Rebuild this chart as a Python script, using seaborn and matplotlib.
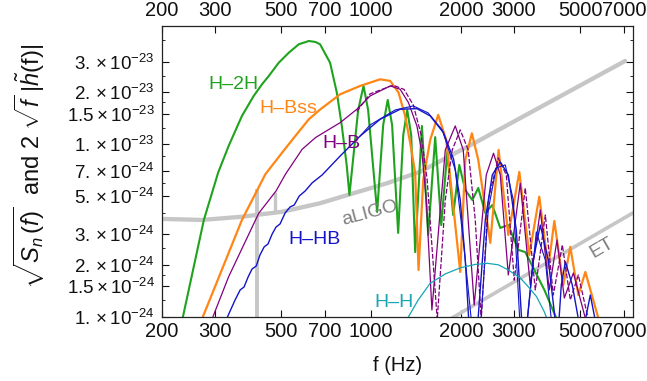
import numpy as np
import pandas as pd
import matplotlib
matplotlib.use("Agg")
import matplotlib.pyplot as plt
import seaborn as sns
from matplotlib.ticker import FixedLocator, FixedFormatter, NullFormatter

# ---------------- data (frequency in Hz, amplitude in units of 1e-24) ----------------
UNIT = 1e-24

h2h_f = [228, 235, 276, 308, 334, 370, 405, 432, 455, 491, 531, 573, 619, 651, 675, 729, 768, 798, 829, 846,
         905, 943, 977, 1047, 1097, 1136, 1175, 1231, 1280, 1320, 1361, 1403, 1478, 1551, 1637, 1715, 1796, 1880,
         1970, 2063, 2178, 2280, 2407, 2540, 2701, 2873, 3102, 3274, 3481, 3792, 4158]
h2h_a = [0.85, 1.0, 3.64, 6.84, 9.78, 14.6, 19.06, 22.3, 24.9, 29.7, 34.0, 38.0, 39.7, 39.2, 38.0, 29.7, 19.9, 12.77,
         7.48, 5.08, 15.8, 21.8, 15.8, 4.05, 12.94, 18.07, 12.94, 3.06, 11.3, 15.8, 11.3, 2.37, 12.77, 2.98, 11.0,
         3.40, 9.02, 3.89, 7.59, 5.43, 4.75, 5.58, 4.00, 4.44, 3.27, 3.40, 2.44, 2.37, 1.92, 1.43, 0.98]

bss_f = [265, 274, 370, 443, 504, 558, 619, 677, 788, 919, 1072, 1158, 1235, 1299, 1350, 1403, 1440, 1493, 1575,
         1675, 1782, 1985, 2063, 2171, 2280, 2501, 2666, 2873, 3127, 3376, 3646, 3908, 4094, 4387, 4630, 4925,
         5198, 5744]
bss_a = [0.85, 1.0, 3.64, 6.70, 8.94, 11.17, 13.96, 15.96, 19.5, 21.8, 23.8, 23.3, 19.9, 14.6, 10.2, 6.84, 1.866,
         6.21, 10.59, 14.8, 10.59, 1.817, 8.11, 11.58, 8.11, 2.68, 9.27, 2.98, 6.91, 2.28, 4.97, 1.92, 3.59, 1.53,
         2.54, 1.336, 1.817, 0.98]

hb_f = [288, 296, 334, 421, 481, 517, 588, 651, 788, 896, 992, 1158, 1250, 1333, 1422, 1478, 1528, 1596, 1769,
        1910, 2031, 2210, 2425, 2564, 2701, 2873, 3150, 3402, 3675, 3938, 4178, 4422, 4740, 5198]
hb_a = [0.85, 1.0, 1.706, 3.98, 5.36, 6.70, 9.35, 10.92, 13.35, 15.96, 19.06, 21.8, 20.84, 17.42, 12.77, 8.94,
        4.75, 1.094, 9.27, 12.77, 9.27, 1.169, 6.64, 8.87, 6.64, 1.746, 5.94, 1.53, 4.16, 1.43, 2.786, 1.284,
        1.793, 0.98]

hb2_f = [896, 992, 1185, 1288, 1383, 1470, 1539, 1663, 1769, 1866, 1985, 2110, 2228, 2332, 2462, 2660, 2829,
         3008, 3274, 3536, 3820, 4062, 4354, 4630, 4925, 5320]
hb2_a = [15.5, 19.6, 22.0, 20.8, 16.9, 11.3, 6.21, 0.96, 4.75, 9.27, 12.11, 9.27, 3.64, 0.96, 4.75, 8.33, 6.64,
         1.63, 5.58, 1.43, 3.89, 1.336, 2.61, 1.25, 1.746, 0.96]

hhb_f = [325, 351, 365, 376, 388, 400, 413, 425, 439, 452, 467, 481, 496, 516, 536, 553, 575, 602, 635, 686,
         788, 919, 1072, 1250, 1422, 1575, 1744, 1886, 1985, 2063, 2128, 2263, 2407, 2540, 2701, 2873, 3056,
         3198, 3300, 3481, 3675, 3908, 4158, 4222, 4320, 4457, 4700, 5000, 5117, 5400, 5690]
hhb_a = [0.93, 1.25, 1.43, 1.487, 1.70, 1.891, 1.968, 2.28, 2.54, 2.64, 3.02, 3.31, 3.45, 4.00, 4.33, 4.44, 5.01,
         5.36, 5.97, 6.64, 8.55, 11.17, 13.96, 15.96, 16.09, 14.6, 11.67, 8.18, 4.75, 2.13, 0.84, 0.84, 3.64,
         6.64, 7.9, 6.64, 3.18, 0.84, 0.84, 2.13, 3.40, 2.13, 0.84, 0.84, 1.53, 2.08, 1.53, 0.84, 0.84, 1.336, 0.84]

hhb2_f = [919, 992, 1203, 1383, 1551, 1728, 1910, 2031, 2178, 2316, 2462, 2618, 2806, 2986, 3150, 3300, 3564,
          3820, 4031]
hhb2_a = [11.17, 12.94, 15.81, 16.68, 15.19, 12.11, 7.10, 2.786, 0.84, 0.84, 4.16, 7.29, 7.59, 4.75, 0.84, 0.84,
          3.10, 2.13, 0.84]

hh_f = [1290, 1333, 1436, 1575, 1769, 1985, 2228, 2444, 2660, 2873, 3150, 3350, 3572, 3792, 3880]
hh_a = [0.9, 1.0, 1.25, 1.563, 1.77, 1.92, 2.01, 2.04, 2.00, 1.866, 1.677, 1.493, 1.306, 1.065, 0.96]

ligo_f = [200, 272, 370, 504, 675, 873, 1129, 1459, 2280, 7056]
ligo_a = [3.69, 3.64, 3.80, 4.06, 4.55, 5.20, 5.94, 6.93, 10.45, 30.4]

et_f = [1800, 3675, 7500]
et_a = [0.95, 1.95, 4.0]

mark_f = [417, 476]
mark_lo = [0.9, 3.98]
mark_hi = [5.5, 5.31]

xtick_vals = [200, 300, 500, 700, 1000, 2000, 3000, 5000, 7000]
ytick_vals = [1, 1.5, 2, 3, 5, 7, 10, 15, 20, 30]
ytick_labels = [r"$1.\times10^{-24}$", r"$1.5\times10^{-24}$", r"$2.\times10^{-24}$", r"$3.\times10^{-24}$",
                r"$5.\times10^{-24}$", r"$7.\times10^{-24}$", r"$1.\times10^{-23}$", r"$1.5\times10^{-23}$",
                r"$2.\times10^{-23}$", r"$3.\times10^{-23}$"]
yminor_vals = [1.25, 1.75, 2.5, 4, 6, 8.5, 12.5, 17.5, 25, 40]

# ---------------- style ----------------
sns.set_theme(style="ticks")
plt.rcParams["font.family"] = ["Liberation Sans", "DejaVu Sans"]
plt.rcParams["mathtext.fontset"] = "custom"
plt.rcParams["mathtext.rm"] = "Liberation Sans"
plt.rcParams["mathtext.it"] = "Liberation Sans:italic"
plt.rcParams["mathtext.bf"] = "Liberation Sans:bold"

GREEN = "#1fa31f"
ORANGE = "#ff8614"
PURPLE = "#800080"
BLUE = "#1414c8"
CYAN = "#16a6b4"
GRAY = "#c6c6c6"

fig = plt.figure(figsize=(6.47, 3.81), dpi=100)
ax = fig.add_axes([162 / 647, 1 - 316.7 / 381, 471 / 647, 291 / 381])
ax.set_xscale("log")
ax.set_yscale("log")


def draw(f, a, color, lw, **kw):
    df = pd.DataFrame({"f": f, "h": np.array(a) * UNIT})
    sns.lineplot(data=df, x="f", y="h", color=color, lw=lw, sort=False, estimator=None, ax=ax, **kw)


# detector curves
draw(ligo_f, ligo_a, GRAY, 3.1)
draw(et_f, et_a, GRAY, 2.6)
for fm, lo, hi, w in zip(mark_f, mark_lo, mark_hi, [2.8, 2.4]):
    ax.plot([fm, fm], [lo * UNIT, hi * UNIT], color=GRAY, lw=w, solid_capstyle="butt")

# signal curves
draw(h2h_f, h2h_a, GREEN, 1.5)
draw(bss_f, bss_a, ORANGE, 1.6)
draw(hb_f, hb_a, PURPLE, 0.9)
draw(hb2_f, hb2_a, PURPLE, 0.9, linestyle=(0, (4, 1.5)))
draw(hhb_f, hhb_a, BLUE, 1.0)
draw(hhb2_f, hhb2_a, BLUE, 0.8)
draw(hh_f, hh_a, CYAN, 0.9)

ax.set_xlim(200, 7500)
ax.set_ylim(1e-24, 4.87e-23)

# ticks
ax.xaxis.set_major_locator(FixedLocator(xtick_vals))
ax.xaxis.set_major_formatter(FixedFormatter([str(v) for v in xtick_vals]))
ax.xaxis.set_minor_locator(FixedLocator([]))
ax.yaxis.set_major_locator(FixedLocator([v * UNIT for v in ytick_vals]))
ax.yaxis.set_major_formatter(FixedFormatter(ytick_labels))
ax.yaxis.set_minor_locator(FixedLocator([v * UNIT for v in yminor_vals]))
ax.yaxis.set_minor_formatter(NullFormatter())
ax.tick_params(axis="x", which="both", direction="in", top=True, labeltop=True, length=5, width=0.8,
               labelsize=14.5, pad=4, colors="#111111")
ax.tick_params(axis="y", which="major", direction="in", right=True, length=5, width=0.8, labelsize=13.5,
               pad=5, colors="#111111")
ax.tick_params(axis="y", which="minor", direction="in", right=True, length=2.5, width=0.7)
for s in ax.spines.values():
    s.set_color("#222222")
    s.set_linewidth(0.9)

ax.set_xlabel("f (Hz)", fontsize=14.5, color="#111111")
ax.xaxis.set_label_coords(0.5, -0.135)
ax.set_ylabel(r"$\sqrt{S_n\,(f)}$  and 2 $\sqrt{f}\;|\tilde{h}(\mathrm{f})|$", fontsize=17, color="#111111")
ax.yaxis.set_label_coords(-0.245, 0.515)

# curve labels
lab = dict(fontsize=14, ha="center", va="center")
ax.text(347, 22.1 * UNIT, "H\u2013" + "2H", color=GREEN, **lab)
ax.text(528, 16.1 * UNIT, "H\u2013Bss", color=ORANGE, **lab)
ax.text(794, 10.1 * UNIT, "H\u2013B", color=PURPLE, **lab)
ax.text(645, 2.79 * UNIT, "H\u2013HB", color=BLUE, **lab)
ax.text(1194, 1.21 * UNIT, "H\u2013H", color=CYAN, **lab)
ax.text(992, 4.0 * UNIT, "aLIGO", color="#7f7f7f", rotation=15, rotation_mode="anchor", **lab)
ax.text(5924, 2.5 * UNIT, "ET", color="#7f7f7f", rotation=30, rotation_mode="anchor", **lab)

fig.savefig("out.png", dpi=100)
